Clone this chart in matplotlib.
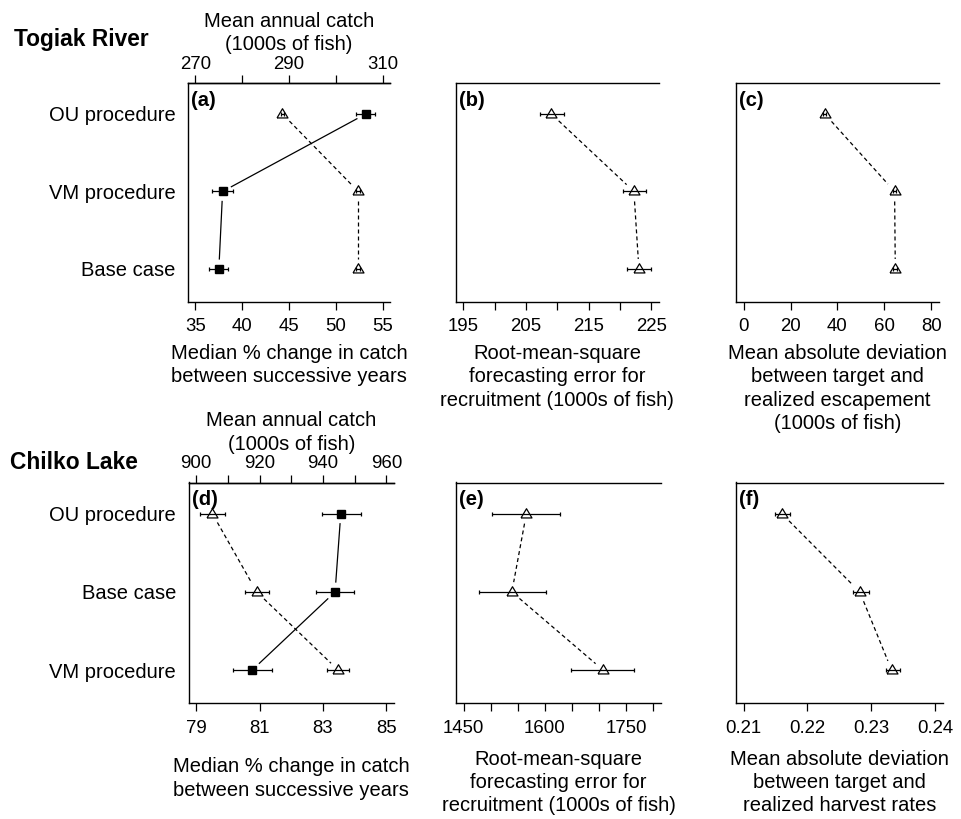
import matplotlib
matplotlib.use("Agg")
import matplotlib.pyplot as plt
import numpy as np

plt.rcParams['font.family'] = ['Liberation Sans', 'DejaVu Sans']

W, H = 961, 819

# Togiak River, rows from top to bottom
togiak_rows = ["OU procedure", "VM procedure", "Base case"]
togiak_change = [53.2, 37.9, 37.5]
togiak_change_lo = [52.2, 36.8, 36.4]
togiak_change_hi = [54.2, 39.0, 38.5]
togiak_catch = [288.6, 304.8, 304.8]
togiak_catch_lo = [288.2, 304.4, 304.4]
togiak_catch_hi = [289.0, 305.2, 305.2]
togiak_rmse = [209.05, 222.2, 223.0]
togiak_rmse_lo = [207.3, 220.4, 221.1]
togiak_rmse_hi = [211.0, 224.1, 224.9]
togiak_mad = [34.6, 64.3, 64.6]
togiak_mad_lo = [33.9, 63.6, 63.8]
togiak_mad_hi = [35.3, 65.0, 65.4]

# Chilko Lake, rows from top to bottom
chilko_rows = ["OU procedure", "Base case", "VM procedure"]
chilko_change = [83.56, 83.38, 80.76]
chilko_change_lo = [82.96, 82.78, 80.16]
chilko_change_hi = [84.20, 83.98, 81.40]
chilko_catch = [905.1, 919.1, 944.8]
chilko_catch_lo = [901.3, 915.5, 941.4]
chilko_catch_hi = [909.2, 922.8, 948.2]
chilko_rmse = [1565.7, 1539.0, 1707.4]
chilko_rmse_lo = [1502.1, 1478.0, 1648.3]
chilko_rmse_hi = [1627.3, 1601.9, 1764.0]
chilko_mad = [0.2160, 0.2282, 0.2332]
chilko_mad_lo = [0.2149, 0.2271, 0.2323]
chilko_mad_hi = [0.2172, 0.2296, 0.2345]

TRI = [(-0.95, -0.6), (0.95, -0.6), (0.0, 1.0), (-0.95, -0.6)]
GAP = 10  # pixels left open around points (like R type="b")
LW = 0.9
FS = 14.5
TFS = 13.4
LS = 1.28

fig = plt.figure(figsize=(W / 100, H / 100), dpi=100)


def px_box(l, r, t, b):
    return [l / W, 1 - b / H, (r - l) / W, (b - t) / H]


def style_axis(ax, xlim, ticks, labels, rows=None):
    ax.set_xlim(xlim)
    ax.set_ylim(3.42, 0.6)
    ax.set_xticks(ticks)
    ax.set_xticklabels(labels)
    if rows:
        ax.set_yticks([1, 2, 3])
        ax.set_yticklabels(rows, fontsize=FS)
    else:
        ax.set_yticks([])
    ax.spines['right'].set_visible(False)
    for s in ('left', 'top', 'bottom'):
        ax.spines[s].set_linewidth(1.0)
    ax.tick_params(axis='x', direction='out', length=5.5, width=0.9,
                   labelsize=TFS, pad=6.5)
    ax.tick_params(axis='y', length=0, pad=9)


def top_axis(ax, xlim, ticks, labels, title):
    top = ax.twiny()
    top.set_xlim(xlim)
    top.set_ylim(ax.get_ylim())
    top.set_xticks(ticks)
    top.set_xticklabels(labels)
    for s in ('left', 'right', 'bottom'):
        top.spines[s].set_visible(False)
    top.spines['top'].set_linewidth(1.0)
    top.tick_params(axis='x', direction='out', length=5.5, width=0.9,
                    labelsize=TFS, pad=2)
    top.set_xlabel(title, fontsize=FS, linespacing=LS, labelpad=4)
    return top


def connect(ax, x, y, ls):
    pts = ax.transData.transform(np.column_stack([x, y]))
    inv = ax.transData.inverted()
    for p0, p1 in zip(pts[:-1], pts[1:]):
        d = p1 - p0
        n = np.hypot(*d)
        if n <= 2 * GAP:
            continue
        u = d / n
        a = inv.transform(p0 + u * GAP)
        b = inv.transform(p1 - u * GAP)
        if ls == 'dashed':
            ax.plot([a[0], b[0]], [a[1], b[1]], color='black', lw=LW,
                    dashes=(3.2, 2.4))
        else:
            ax.plot([a[0], b[0]], [a[1], b[1]], color='black', lw=LW)


def series(ax, x, lo, hi, kind):
    x = np.asarray(x)
    y = np.arange(1, len(x) + 1)
    ax.errorbar(x, y, xerr=[x - np.asarray(lo), np.asarray(hi) - x],
                fmt='none', ecolor='black', elinewidth=LW, capsize=1.7,
                capthick=LW)
    if kind == 'square':
        ax.plot(x, y, ls='none', marker='s', ms=5.8, color='black')
        connect(ax, x, y, 'solid')
    else:
        ax.plot(x, y, ls='none', marker=TRI, ms=8.3, mfc='none',
                mec='black', mew=LW)
        connect(ax, x, y, 'dashed')


def panel_tag(ax, tag):
    ax.text(0.015, 0.965, tag, transform=ax.transAxes, fontsize=FS,
            fontweight='bold', va='top', ha='left')


change_label = "Median % change in catch\nbetween successive years"
rmse_label = "Root-mean-square\nforecasting error for\nrecruitment (1000s of fish)"
catch_label = "Mean annual catch\n(1000s of fish)"

# ---- Togiak River ----
ax_a = fig.add_axes(px_box(188, 390, 83, 301.5))
style_axis(ax_a, (34.2, 55.8), [35, 40, 45, 50, 55],
           ["35", "40", "45", "50", "55"], togiak_rows)
ax_a.set_xlabel(change_label, fontsize=FS, linespacing=LS, labelpad=6.5)
ax_a_top = top_axis(ax_a, (268.4, 311.6), [270, 280, 290, 300, 310],
                    ["270", "", "290", "", "310"], catch_label)
series(ax_a, togiak_change, togiak_change_lo, togiak_change_hi, 'square')
series(ax_a_top, togiak_catch, togiak_catch_lo, togiak_catch_hi, 'triangle')
panel_tag(ax_a, "(a)")

ax_b = fig.add_axes(px_box(455.7, 659, 83, 301.5))
style_axis(ax_b, (193.8, 226.2), [195, 200, 205, 210, 215, 220, 225],
           ["195", "", "205", "", "215", "", "225"])
ax_b.set_xlabel(rmse_label, fontsize=FS, linespacing=LS, labelpad=6.5)
series(ax_b, togiak_rmse, togiak_rmse_lo, togiak_rmse_hi, 'triangle')
panel_tag(ax_b, "(b)")

ax_c = fig.add_axes(px_box(736, 939, 83, 301.5))
style_axis(ax_c, (-3.2, 83.2), [0, 20, 40, 60, 80],
           ["0", "20", "40", "60", "80"])
ax_c.set_xlabel("Mean absolute deviation\nbetween target and\n"
                "realized escapement\n(1000s of fish)",
                fontsize=FS, linespacing=LS, labelpad=6.5)
series(ax_c, togiak_mad, togiak_mad_lo, togiak_mad_hi, 'triangle')
panel_tag(ax_c, "(c)")

# ---- Chilko Lake ----
ax_d = fig.add_axes(px_box(188.7, 394, 482.5, 703))
style_axis(ax_d, (78.76, 85.24), [79, 81, 83, 85],
           ["79", "81", "83", "85"], chilko_rows)
ax_d.set_xlabel(change_label, fontsize=FS, linespacing=LS, labelpad=15)
ax_d_top = top_axis(ax_d, (897.6, 962.4),
                    [900, 910, 920, 930, 940, 950, 960],
                    ["900", "", "920", "", "940", "", "960"], catch_label)
series(ax_d, chilko_change, chilko_change_lo, chilko_change_hi, 'square')
series(ax_d_top, chilko_catch, chilko_catch_lo, chilko_catch_hi, 'triangle')
panel_tag(ax_d, "(d)")

ax_e = fig.add_axes(px_box(456, 661, 482.5, 703))
style_axis(ax_e, (1436, 1814),
           [1450, 1500, 1550, 1600, 1650, 1700, 1750, 1800],
           ["1450", "", "", "1600", "", "", "1750", ""])
ax_e.set_xlabel(rmse_label, fontsize=FS, linespacing=LS, labelpad=9.5)
series(ax_e, chilko_rmse, chilko_rmse_lo, chilko_rmse_hi, 'triangle')
panel_tag(ax_e, "(e)")

ax_f = fig.add_axes(px_box(736, 942.7, 482.5, 703))
style_axis(ax_f, (0.2088, 0.2412), [0.21, 0.22, 0.23, 0.24],
           ["0.21", "0.22", "0.23", "0.24"])
ax_f.set_xlabel("Mean absolute deviation\nbetween target and\n"
                "realized harvest rates",
                fontsize=FS, linespacing=LS, labelpad=9.5)
series(ax_f, chilko_mad, chilko_mad_lo, chilko_mad_hi, 'triangle')
panel_tag(ax_f, "(f)")

fig.text(14 / W, 1 - 46 / H, "Togiak River", fontsize=16.4,
         fontweight='bold', ha='left', va='baseline')
fig.text(10 / W, 1 - 469 / H, "Chilko Lake", fontsize=16.4,
         fontweight='bold', ha='left', va='baseline')

fig.savefig("out.png", dpi=100)
